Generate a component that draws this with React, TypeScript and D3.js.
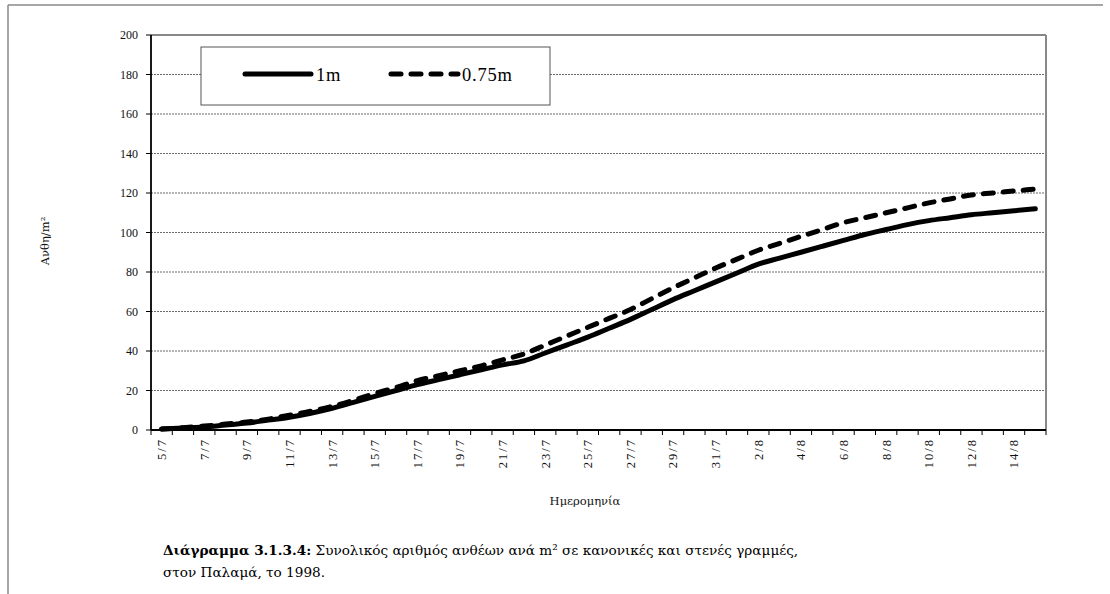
import React from "react";
import * as d3 from "d3";

const dates = [
  "5/7","6/7","7/7","8/7","9/7","10/7","11/7","12/7","13/7","14/7","15/7","16/7","17/7","18/7",
  "19/7","20/7","21/7","22/7","23/7","24/7","25/7","26/7","27/7","28/7","29/7","30/7","31/7",
  "1/8","2/8","3/8","4/8","5/8","6/8","7/8","8/8","9/8","10/8","11/8","12/8","13/8","14/8","15/8",
];
const series1m = [
  0.5, 1.0, 1.5, 2.5, 3.5, 5.0, 6.5, 8.5, 11, 14, 17, 20, 23, 25.5,
  28, 30.5, 33, 35, 39, 43, 47, 51.5, 56, 61, 66, 70.5, 75,
  79.5, 84, 87, 90, 93, 96, 99, 101.5, 104, 106, 107.5, 109, 110, 111, 112,
];
const series075m = [
  0.5, 1.2, 2, 3, 4, 5.5, 7.5, 9.5, 12, 15, 18.5, 21.5, 25, 27.5,
  30, 32.5, 35.5, 38.5, 43, 47.5, 52, 56.5, 61, 66.5, 72, 77, 82,
  86.5, 91, 94.5, 98, 101.5, 105, 107.5, 110, 112.5, 115, 117, 119, 120, 121, 122,
];
const yTicks = [0, 20, 40, 60, 80, 100, 120, 140, 160, 180, 200];
const legendLabels = ["1m", "0.75m"];
const yTitle = "Ανθη/m²";
const xTitle = "Ημερομηνία";
const captionBold = "Διάγραμμα 3.1.3.4:";
const captionRest = " Συνολικός αριθμός ανθέων ανά m² σε κανονικές και στενές γραμμές,";
const captionLine2 = "στον Παλαμά, το 1998.";

const W = 1110;
const H = 594;
const L = 151, R = 1046, T = 35, B = 430;
const serif = "'Liberation Serif', 'DejaVu Serif', serif";
const greek = "'DejaVu Serif', serif";

export default function App() {
  const x = d3.scaleBand<string>().domain(dates).range([L, R]).padding(0);
  const y = d3.scaleLinear().domain([0, 200]).range([B, T]);
  const cx = (d: string) => (x(d) as number) + x.bandwidth() / 2;
  const line = d3
    .line<number>()
    .x((_, i) => cx(dates[i]))
    .y((v) => y(v))
    .curve(d3.curveMonotoneX);

  const tickBounds = d3.range(dates.length + 1).map((i) => L + i * x.bandwidth());

  return (
    <svg width={W} height={H} style={{ position: "absolute", left: 0, top: 0, background: "#fff" }}>
      {/* outer frame */}
      <line x1={8} y1={5} x2={1103} y2={5} stroke="#888" strokeWidth={1.5} />
      <line x1={8} y1={5} x2={8} y2={H} stroke="#888" strokeWidth={1.5} />

      {/* gridlines */}
      {yTicks.filter((t) => t > 0 && t < 200).map((t) => (
        <line key={"g" + t} x1={L} x2={R} y1={y(t)} y2={y(t)} stroke="#444" strokeWidth={0.8} strokeDasharray="2 1" />
      ))}
      {/* plot border top/right */}
      <line x1={L} x2={R} y1={T} y2={T} stroke="#888" strokeWidth={2} />
      <line x1={R} x2={R} y1={T} y2={B} stroke="#888" strokeWidth={2} />

      {/* y axis */}
      <line x1={L} x2={L} y1={T} y2={B} stroke="#000" strokeWidth={1.8} />
      {yTicks.map((t) => (
        <g key={"y" + t}>
          <line x1={L - 5} x2={L} y1={y(t)} y2={y(t)} stroke="#000" strokeWidth={1} />
          <text x={L - 13} y={y(t)} dy="0.35em" textAnchor="end" fontFamily={serif} fontSize={12} fill="#111">
            {t}
          </text>
        </g>
      ))}

      {/* x axis */}
      <line x1={L} x2={R} y1={B} y2={B} stroke="#000" strokeWidth={1.8} />
      {tickBounds.map((tx, i) => (
        <line key={"xt" + i} x1={tx} x2={tx} y1={B} y2={B + 5} stroke="#000" strokeWidth={1} />
      ))}
      {dates.map((d, i) =>
        i % 2 === 0 ? (
          <text
            key={"xl" + d}
            transform={`translate(${cx(d)},${B + 8}) rotate(-90)`}
            dy="0.35em"
            textAnchor="end"
            fontFamily={serif}
            fontSize={12.5}
            letterSpacing={2}
            fill="#111"
          >
            {d}
          </text>
        ) : null
      )}

      {/* series */}
      <path d={line(series1m) || ""} fill="none" stroke="#000" strokeWidth={5} strokeLinecap="round" strokeLinejoin="round" />
      <path d={line(series075m) || ""} fill="none" stroke="#000" strokeWidth={5} strokeDasharray="10 10" strokeLinecap="round" />

      {/* legend */}
      <rect x={201} y={47} width={349} height={58} fill="#fff" stroke="#555" strokeWidth={1} />
      <line x1={245} x2={311} y1={74} y2={74} stroke="#000" strokeWidth={5} strokeLinecap="round" />
      <text x={316} y={75} dy="0.35em" fontFamily={serif} fontSize={18.5} letterSpacing={0.8} fill="#000">{legendLabels[0]}</text>
      <line x1={391} x2={458} y1={74} y2={74} stroke="#000" strokeWidth={5} strokeDasharray="10 10" strokeLinecap="round" />
      <text x={462} y={75} dy="0.35em" fontFamily={serif} fontSize={18.5} letterSpacing={0.8} fill="#000">{legendLabels[1]}</text>

      {/* axis titles */}
      <text transform={`translate(45,241) rotate(-90)`} textAnchor="middle" dy="0.35em" fontFamily={greek} fontSize={11.5} fill="#111">
        {yTitle}
      </text>
      <text x={585} y={501} textAnchor="middle" dy="0.35em" fontFamily={greek} fontSize={11.5} fill="#111">
        {xTitle}
      </text>

      {/* caption */}
      <text x={163} y={555} fontFamily={greek} fontSize={13.6} fill="#000">
        <tspan fontWeight="bold">{captionBold}</tspan>
        <tspan>{captionRest}</tspan>
      </text>
      <text x={163} y={577} fontFamily={greek} fontSize={13.6} fill="#000">
        {captionLine2}
      </text>
    </svg>
  );
}
